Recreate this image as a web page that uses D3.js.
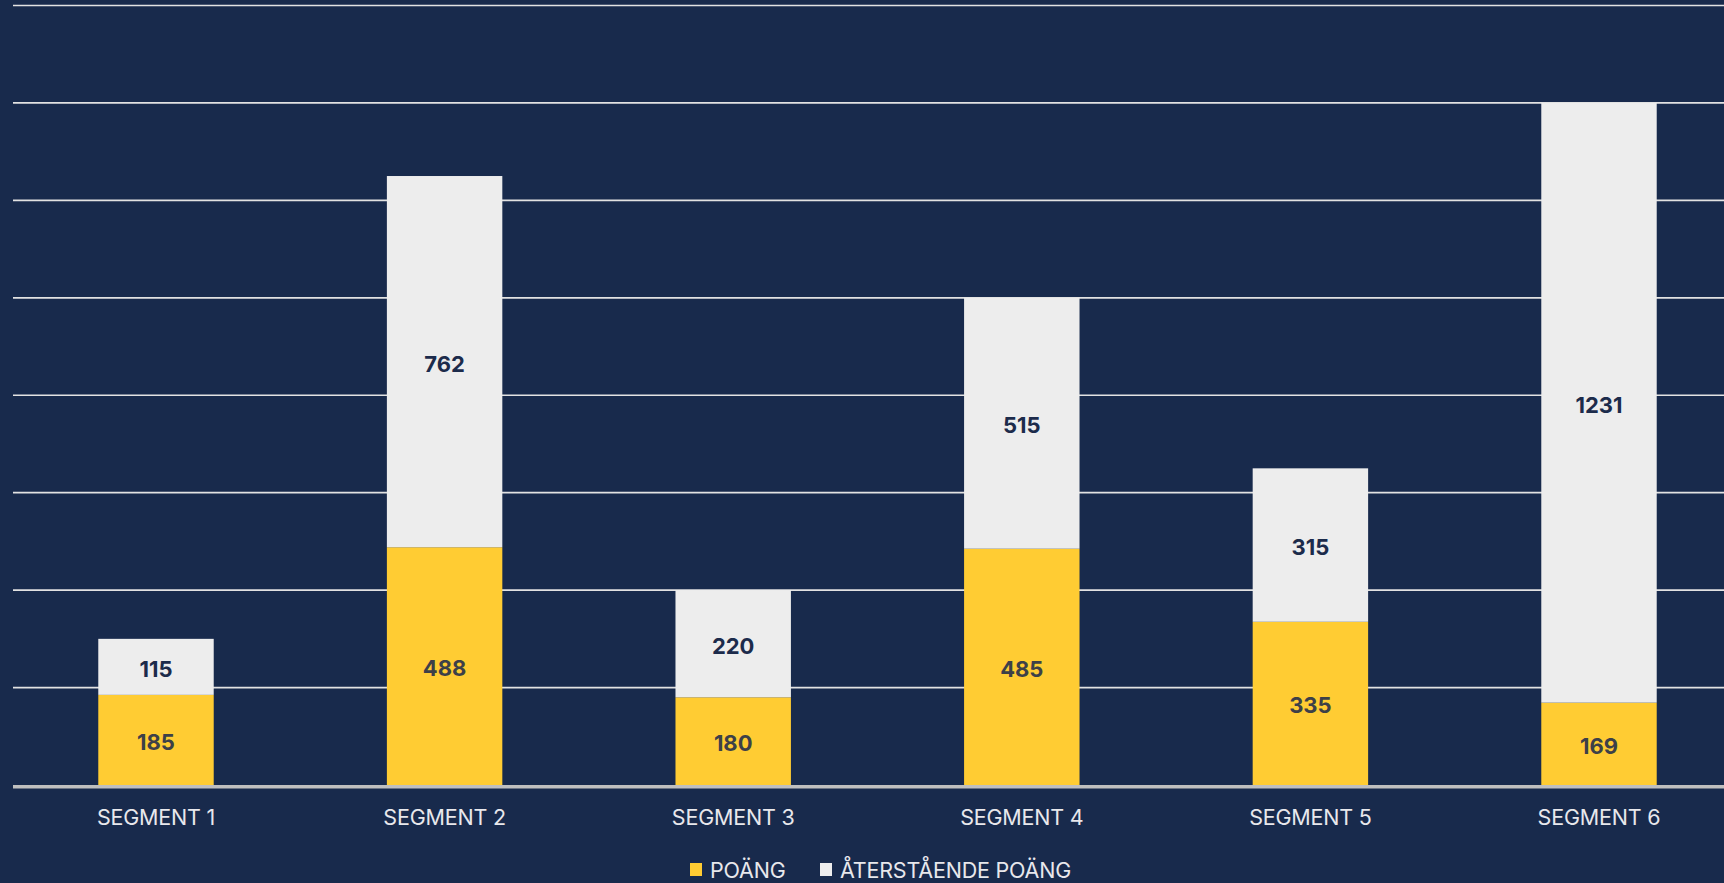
<!DOCTYPE html>
<html>
<head>
<meta charset="utf-8">
<script src="https://cdn.jsdelivr.net/npm/d3@7/dist/d3.min.js"></script>
<style>
  html, body { margin: 0; padding: 0; background: #182a4c; }
  svg { display: block; }
</style>
</head>
<body>
<svg id="chart" width="1724" height="883"></svg>
<script>
// Chart data
const categories = ["SEGMENT 1", "SEGMENT 2", "SEGMENT 3", "SEGMENT 4", "SEGMENT 5", "SEGMENT 6"];
const poang = [185, 488, 180, 485, 335, 169];
const aterstaende = [115, 762, 220, 515, 315, 1231];
const seriesNames = ["POÄNG", "ÅTERSTÅENDE POÄNG"];
const yTicks = [0, 200, 400, 600, 800, 1000, 1200, 1400, 1600];

const W = 1724, H = 883;
const colors = { poang: "#ffcc33", rest: "#ededed", bg: "#182a4c", grid: "#e2e2e2", axis: "#bfbfbf" };

const svg = d3.select("#chart");
svg.append("rect").attr("width", W).attr("height", H).attr("fill", colors.bg);

const x = d3.scaleBand()
  .domain(categories)
  .range([11.7, 1743.3])
  .paddingInner(0.6)
  .paddingOuter(0.3);

const y = d3.scaleLinear().domain([0, 1600]).range([785, 5.5]);

// Horizontal gridlines
svg.append("g")
  .selectAll("line")
  .data(yTicks.filter(t => t > 0))
  .join("line")
  .attr("x1", 13).attr("x2", W)
  .attr("y1", d => y(d)).attr("y2", d => y(d))
  .attr("stroke", colors.grid)
  .attr("stroke-width", 1.7);

const rows = categories.map((c, i) => ({ cat: c, poang: poang[i], rest: aterstaende[i] }));
const stack = d3.stack().keys(["poang", "rest"])(rows);
const fills = [colors.poang, colors.rest];
const textFills = ["#3d4048", "#1c2b4b"];

stack.forEach((layer, li) => {
  const g = svg.append("g");
  g.selectAll("rect")
    .data(layer)
    .join("rect")
    .attr("x", d => x(d.data.cat))
    .attr("width", x.bandwidth())
    .attr("y", d => y(d[1]))
    .attr("height", d => y(d[0]) - y(d[1]))
    .attr("fill", fills[li]);
  g.selectAll("text")
    .data(layer)
    .join("text")
    .attr("x", d => x(d.data.cat) + x.bandwidth() / 2)
    .attr("y", d => (y(d[0]) + y(d[1])) / 2 + 2)
    .attr("text-anchor", "middle")
    .attr("dominant-baseline", "central")
    .attr("font-family", "Inter, sans-serif")
    .attr("font-weight", 700)
    .attr("font-size", 22)
    .attr("fill", textFills[li])
    .text(d => d[1] - d[0]);
});

// Category axis
const xAxis = svg.append("g").attr("transform", `translate(0, ${y(0)})`);
xAxis.append("line")
  .attr("x1", 13).attr("x2", W)
  .attr("y1", 1.8).attr("y2", 1.8)
  .attr("stroke", colors.axis)
  .attr("stroke-width", 3.6);
xAxis.selectAll("text")
  .data(categories)
  .join("text")
  .attr("x", d => x(d) + x.bandwidth() / 2)
  .attr("y", 40)
  .attr("text-anchor", "middle")
  .attr("font-family", "Inter, sans-serif")
  .attr("font-size", 21.5)
  .attr("letter-spacing", -0.2)
  .attr("fill", "#e8e8ec")
  .text(d => d);

// Legend
const legend = svg.append("g").attr("transform", "translate(0, 870)");
const legendItems = [
  { name: seriesNames[0], color: colors.poang, x: 690 },
  { name: seriesNames[1], color: colors.rest, x: 820 }
];
legendItems.forEach(item => {
  legend.append("rect")
    .attr("x", item.x).attr("y", -7)
    .attr("width", 12).attr("height", 13)
    .attr("fill", item.color);
  legend.append("text")
    .attr("x", item.x + 20).attr("y", 7.5)
    .attr("font-family", "Inter, sans-serif")
    .attr("font-size", 21.5)
    .attr("letter-spacing", -0.2)
    .attr("fill", "#e8e8ec")
    .text(item.name);
});
</script>
</body>
</html>
